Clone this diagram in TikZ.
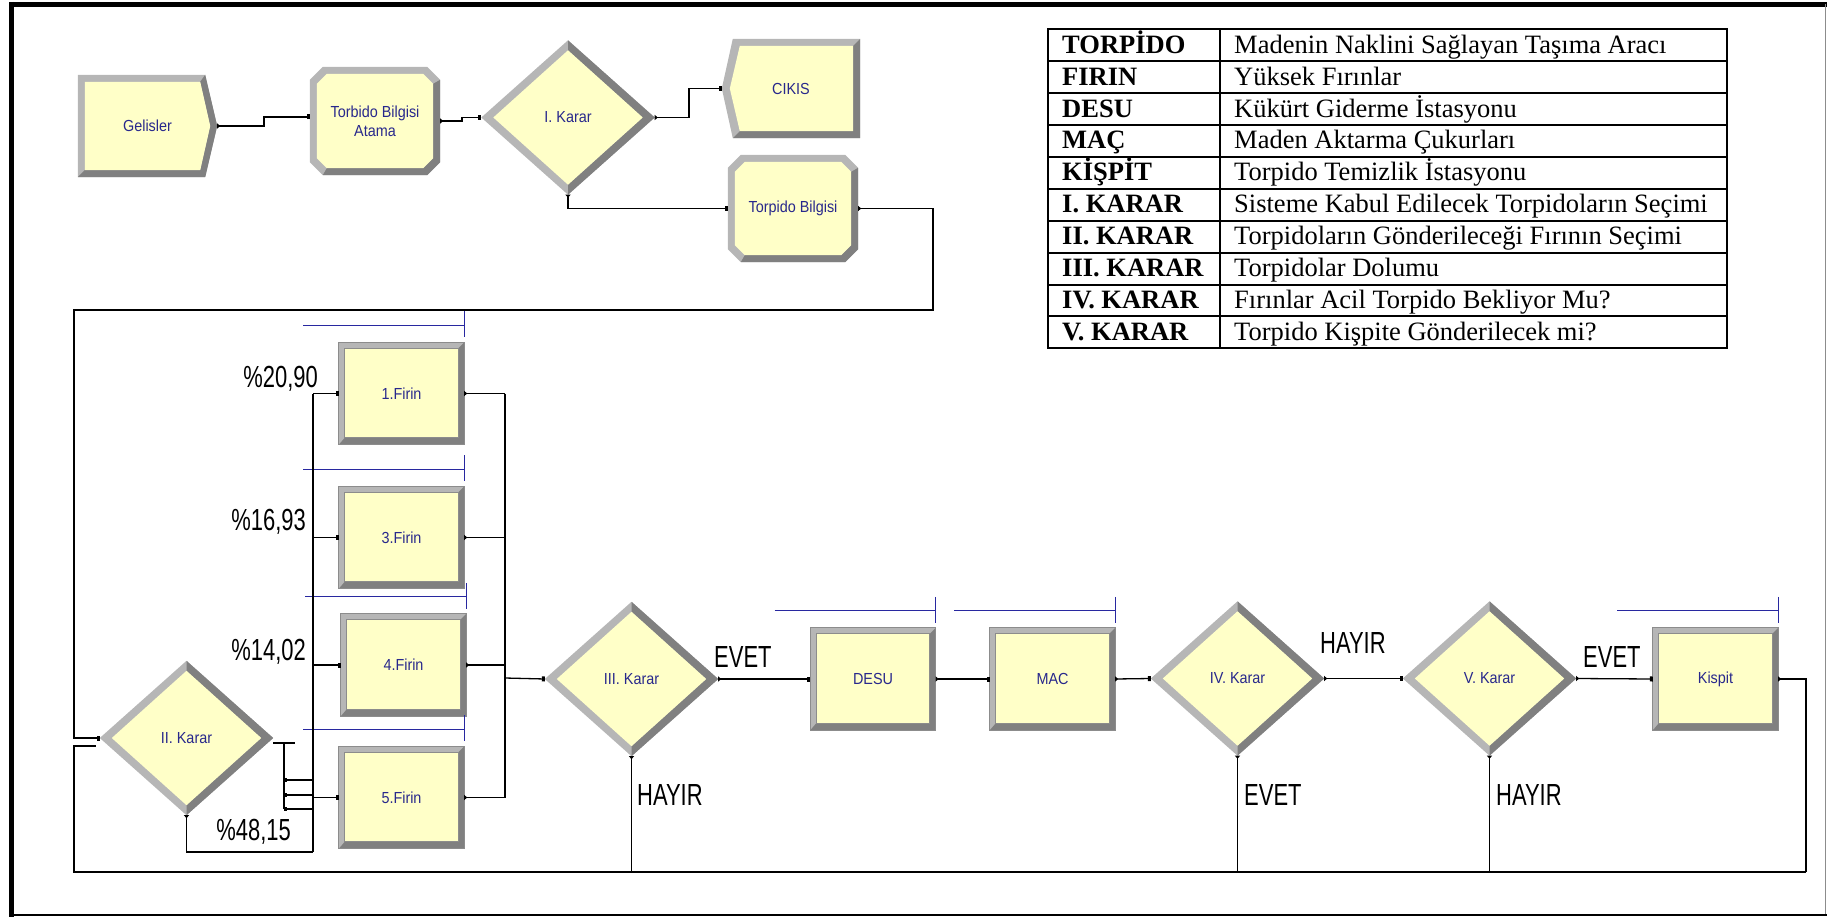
\documentclass[tikz,border=0pt]{standalone}
\usepackage{fontspec}
\setmainfont{Liberation Serif}
\newfontfamily\modfont[FakeStretch=0.9]{Liberation Sans}
\newfontfamily\lblfont[FakeStretch=0.72]{Liberation Sans}
\usetikzlibrary{calc,arrows.meta}
\pgfdeclarelayer{background}
\pgfsetlayers{background,main}
\definecolor{yel}{RGB}{255,255,200}
\definecolor{bevL}{RGB}{182,182,182}
\definecolor{bevD}{RGB}{128,128,128}
\definecolor{bevO}{RGB}{140,140,140}
\definecolor{modblue}{RGB}{40,40,140}
\definecolor{qblue}{RGB}{40,40,160}

\newcommand\procshape[1]{%
 \fill[bevL] (#1.north west) rectangle (#1.south east);
 \fill[bevD] (#1.north east) -- (#1.south east) -- (#1.south west) -- ($(#1.south west)+(6,-7)$) -- ($(#1.south east)+(-6,-7)$) -- ($(#1.north east)+(-6,6)$) -- cycle;
 \fill[yel] ($(#1.north west)+(6,6)$) rectangle ($(#1.south east)+(-6,-7)$);
 \draw[bevO, line width=0.7] ($(#1.north west)+(6,6)$) rectangle ($(#1.south east)+(-6,-7)$);
 \draw[bevO, line width=0.9] (#1.north west) rectangle (#1.south east);
}
\newcommand\decshape[1]{%
 \fill[bevL] (#1.north) -- (#1.east) -- (#1.south) -- (#1.west) -- cycle;
 \fill[bevD] (#1.north) -- (#1.east) -- (#1.south) -- ($(#1.south)+(0,-10)$) -- ($(#1.east)+(-12,0)$) -- ($(#1.north)+(0,10)$) -- cycle;
 \fill[yel] ($(#1.north)+(0,10)$) -- ($(#1.east)+(-12,0)$) -- ($(#1.south)+(0,-10)$) -- ($(#1.west)+(12,0)$) -- cycle;
}
\newcommand\assignshape[1]{%
 \fill[bevL] ($(#1.north west)+(13,0)$) -- ($(#1.north east)+(-13,0)$) -- ($(#1.north east)+(0,13)$) -- ($(#1.south east)+(0,-13)$) -- ($(#1.south east)+(-13,0)$) -- ($(#1.south west)+(13,0)$) -- ($(#1.south west)+(0,-13)$) -- ($(#1.north west)+(0,13)$) -- cycle;
 \fill[bevD] ($(#1.north east)+(0,13)$) -- ($(#1.south east)+(0,-13)$) -- ($(#1.south east)+(-13,0)$) -- ($(#1.south west)+(13,0)$) -- ($(#1.south west)+(17,-7)$) -- ($(#1.south east)+(-17,-7)$) -- ($(#1.south east)+(-7,-17)$) -- ($(#1.north east)+(-7,17)$) -- cycle;
 \fill[yel] ($(#1.north west)+(17,7)$) -- ($(#1.north east)+(-17,7)$) -- ($(#1.north east)+(-7,17)$) -- ($(#1.south east)+(-7,-17)$) -- ($(#1.south east)+(-17,-7)$) -- ($(#1.south west)+(17,-7)$) -- ($(#1.south west)+(7,-17)$) -- ($(#1.north west)+(7,17)$) -- cycle;
}
\newcommand\createshape[1]{%
 \fill[bevL] (#1.north west) -- ($(#1.north east)+(-12,0)$) -- (#1.east) -- ($(#1.south east)+(-12,0)$) -- (#1.south west) -- cycle;
 \fill[bevD] ($(#1.north east)+(-12,0)$) -- (#1.east) -- ($(#1.south east)+(-12,0)$) -- (#1.south west) -- ($(#1.south west)+(7,-7)$) -- ($(#1.south east)+(-17,-7)$) -- ($(#1.east)+(-7,0)$) -- ($(#1.north east)+(-17,7)$) -- cycle;
 \fill[yel] ($(#1.north west)+(7,7)$) -- ($(#1.north east)+(-17,7)$) -- ($(#1.east)+(-7,0)$) -- ($(#1.south east)+(-17,-7)$) -- ($(#1.south west)+(7,-7)$) -- cycle;
}
\newcommand\disposeshape[1]{%
 \fill[bevL] ($(#1.north west)+(11,0)$) -- (#1.north east) -- (#1.south east) -- ($(#1.south west)+(11,0)$) -- (#1.west) -- cycle;
 \fill[bevD] (#1.north east) -- (#1.south east) -- ($(#1.south west)+(11,0)$) -- ($(#1.south west)+(18,-7)$) -- ($(#1.south east)+(-7,-7)$) -- ($(#1.north east)+(-7,7)$) -- cycle;
 \fill[yel] ($(#1.north west)+(18,7)$) -- ($(#1.north east)+(-7,7)$) -- ($(#1.south east)+(-7,-7)$) -- ($(#1.south west)+(18,-7)$) -- ($(#1.west)+(8,0)$) -- cycle;
}
\newcommand\queuebar[1]{%
 \draw[queue] ($(#1.north east)+(-161,-17)$) -- ($(#1.north east)+(0,-17)$);
 \draw[queue] ($(#1.north east)+(0,-31)$) -- ($(#1.north east)+(0,-5)$);
}

\begin{document}
\begin{tikzpicture}[x=1pt,y=-1pt,
 mod/.style={rectangle, inner sep=0, align=center, text=modblue, font=\modfont\fontsize{16}{19}\selectfont},
 procbox/.style={mod, minimum width=125, minimum height=102},
 decbox/.style={mod, minimum width=173, minimum height=154},
 lbl/.style={inner sep=0, font=\lblfont\fontsize{30.5}{34}\selectfont, text=black},
 conn/.style={line width=1.3, draw=black},
 enter/.style={conn, -{Square[length=3pt,width=5pt]}},
 leave/.style={conn, {Triangle[reversed,length=3pt,width=5pt]}-},
 link/.style={conn, {Triangle[reversed,length=3pt,width=5pt]}-{Square[length=3pt,width=5pt]}},
 queue/.style={draw=qblue, line width=1.3},
 tabline/.style={draw=black, line width=2},
 tabtxt/.style={inner sep=0, anchor=base west, font=\fontsize{26.5}{30}\selectfont},
]
\path[use as bounding box] (0,0) rectangle (1827,917);
% frame
\draw[line width=5] (9,4.5) -- (1827,4.5);
\draw[line width=5] (11.5,2) -- (11.5,917);
\draw[line width=2] (9,914.5) -- (1827,914.5);
\draw[black!45, line width=1] (1825.5,4) -- (1825.5,914);

% top row nodes
\node[mod, minimum width=139, minimum height=102] (gel) at (147.5,126) {Gelisler};
\node[mod, minimum width=130, minimum height=108] (atama) at (375,121) {Torbido Bilgisi\\Atama};
\node[decbox] (k1) at (568,117.5) {I. Karar};
\node[mod, minimum width=138, minimum height=99] (cikis) at (791,88.5) {CIKIS};
\node[mod, minimum width=130, minimum height=107] (tbil) at (793,208.5) {Torpido Bilgisi};

% lower nodes
\node[decbox] (k2) at (186.5,738) {II. Karar};
\node[procbox] (f1) at (401.5,393.5) {1.Firin};
\node[procbox] (f3) at (401.5,537.5) {3.Firin};
\node[procbox] (f4) at (403.5,665) {4.Firin};
\node[procbox] (f5) at (401.5,797.5) {5.Firin};
\node[decbox] (k3) at (631.5,679) {III. Karar};
\node[procbox] (desu) at (873,679) {DESU};
\node[procbox] (mac) at (1052.5,679) {MAC};
\node[decbox] (k4) at (1237.5,678.5) {IV. Karar};
\node[decbox] (k5) at (1489.5,678.5) {V. Karar};
\node[procbox] (kispit) at (1715.5,679) {Kispit};

\begin{pgfonlayer}{background}
 \createshape{gel}
 \assignshape{atama}
 \decshape{k1}
 \disposeshape{cikis}
 \assignshape{tbil}
 \foreach \n in {k2,k3,k4,k5} {\decshape{\n}}
 \foreach \n in {f1,f3,f4,f5,desu,mac,kispit} {\procshape{\n}}
\end{pgfonlayer}

% queue bars
\foreach \n in {f1,f3,f4,f5,desu,mac,kispit} {\queuebar{\n}}

% labels
\node[lbl, anchor=base east] (p1) at (318,387) {\%20,90};
\node[lbl, anchor=base east] (p3) at (306,530) {\%16,93};
\node[lbl, anchor=base east] (p4) at (306,660) {\%14,02};
\node[lbl, anchor=base east] (p5) at (291,840) {\%48,15};
\node[lbl, anchor=base west] (e3) at (714,667) {EVET};
\node[lbl, anchor=base west] (h3) at (637,805) {HAYIR};
\node[lbl, anchor=base west] (h4) at (1320,653) {HAYIR};
\node[lbl, anchor=base west] (e4) at (1244,805) {EVET};
\node[lbl, anchor=base west] (e5) at (1583,667) {EVET};
\node[lbl, anchor=base west] (h5) at (1496,805) {HAYIR};

% top connectors
\draw[link] (gel.east) -- (264,126) -- (264,117) -- (atama.west |- 0,117);
\draw[link] (atama.east) -- (462,121) -- (462,117.5) -- (k1.west);
\draw[link] (k1.east) -- (689,117.5) -- (689,88.5) -- (cikis.west);
\draw[link] (k1.south) |- (tbil.west);
\draw[link] (tbil.east) -- (933,208.5) -- (933,310) -- (74,310) |- (k2.west);
% return loop
\draw[conn] (1806,872) -- (74,872) -- (74,746) -- (96,746);
\draw[leave] (kispit.east) -| (1806,872);
\draw[leave] (k3.south) -- (k3.south |- 0,872);
\draw[leave] (k4.south) -- (k4.south |- 0,872);
\draw[leave] (k5.south) -- (k5.south |- 0,872);

% II. Karar outputs
\draw[conn] (k2.east) ++(0,5) -- ++(22,0);
\draw[conn] (284,743) -- (284,809);
\foreach \yy in {780,795,809} {\draw[conn, {Square[length=3pt,width=4pt]}-] (284,\yy) -- (313,\yy);}
\draw[leave] (k2.south) |- (313,852);
\draw[conn] (313,852) -- (313,393.5);
\foreach \n in {f1,f3,f4,f5} {\draw[enter] (\n.west -| 313,0) -- (\n.west);}
% furnace outputs
\foreach \n in {f1,f3,f4,f5} {\draw[leave] (\n.east) -- (\n.east -| 505,0);}
\draw[conn] (505,393.5) -- (505,797.5);
\draw[enter] (505,678) -- (k3.west);

% main chain
\draw[link] (k3.east) -- (desu.west);
\draw[link] (desu.east) -- (mac.west);
\draw[link] (mac.east) -- (k4.west);
\draw[link] (k4.east) -- (k5.west);
\draw[link] (k5.east) -- (kispit.west);

% table
\draw[tabline] (1048,29.3) rectangle (1727,348.3);
\foreach \k in {1,...,9} {\draw[tabline] (1048,{29.3+31.9*\k}) -- (1727,{29.3+31.9*\k});}
\draw[tabline] (1219.5,29.3) -- (1219.5,348.3);
\foreach \l/\r [count=\i from 0] in {TORPİDO/Madenin Naklini Sağlayan Taşıma Aracı,FIRIN/Yüksek Fırınlar,DESU/Kükürt Giderme İstasyonu,MAÇ/Maden Aktarma Çukurları,KİŞPİT/Torpido Temizlik İstasyonu,I. KARAR/Sisteme Kabul Edilecek Torpidoların Seçimi,II. KARAR/Torpidoların Gönderileceği Fırının Seçimi,III. KARAR/Torpidolar Dolumu,IV. KARAR/Fırınlar Acil Torpido Bekliyor Mu?,V. KARAR/Torpido Kişpite Gönderilecek mi?} {
 \node[tabtxt] (tl\i) at (1062,{53.3+31.9*\i}) {\bfseries\l};
 \node[tabtxt] (tr\i) at (1234,{53.3+31.9*\i}) {\r};
}
\end{tikzpicture}
\end{document}
